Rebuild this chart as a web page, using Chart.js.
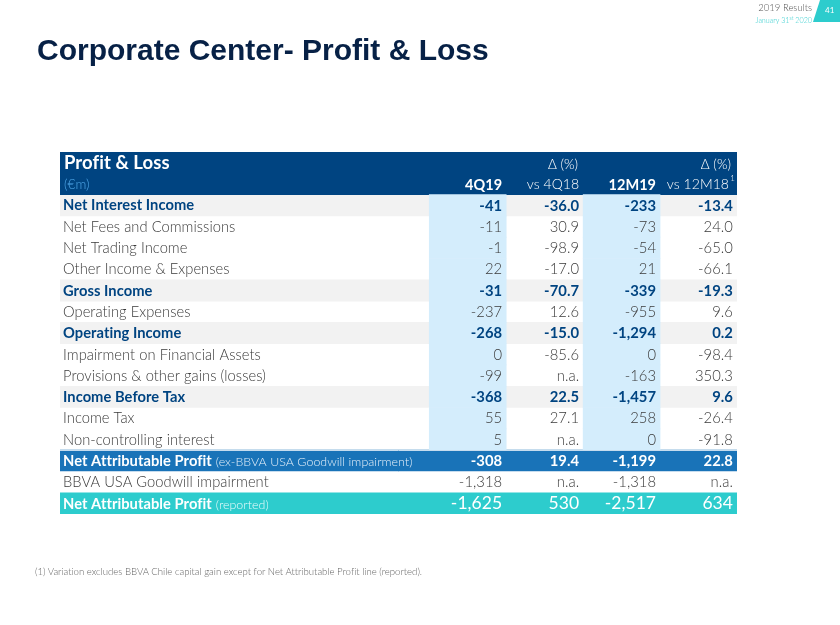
<!DOCTYPE html>
<html><head><meta charset="utf-8">
<script src="https://cdn.jsdelivr.net/npm/chart.js@4.4.1/dist/chart.umd.min.js"></script>
<style>
html,body{margin:0;padding:0;background:#fff}
body{width:840px;height:625px;overflow:hidden;position:relative;font-family:Lato,"Open Sans",sans-serif;font-variant-ligatures:none}
#c{position:absolute;left:0;top:0}
.title{position:absolute;left:37px;top:35px;font-family:"Liberation Sans",Arial,sans-serif;font-weight:700;font-size:30px;line-height:30px;color:#072146;white-space:nowrap}
.res{position:absolute;right:28px;top:2px;font-size:9.5px;font-weight:300;color:#555;white-space:nowrap}
.date{position:absolute;right:28px;top:15px;font-size:7.2px;font-weight:300;color:#2dcccd;white-space:nowrap}
.date sup{font-size:5px}
.tab{position:absolute;left:813px;top:0;width:27px;height:22px;background:#2dcccd;clip-path:polygon(7px 0,100% 0,100% 100%,0 100%)}
.pg{position:absolute;left:825px;top:5px;font-size:8px;color:#fff}
.foot{position:absolute;left:35px;top:566px;font-size:9.6px;font-weight:300;color:#666;white-space:nowrap}
</style></head>
<body>
<canvas id="c" width="840" height="625"></canvas>
<div class="title">Corporate Center- Profit &amp; Loss</div>
<div class="res">2019 Results</div>
<div class="date">January 31<sup>st</sup> 2020</div>
<div class="tab"></div><div class="pg">41</div>
<div class="foot">(1) Variation excludes BBVA Chile capital gain except for Net Attributable Profit line (reported).</div>
<script>
// ---- data ----
const rowLabels = ['Net Interest Income','Net Fees and Commissions','Net Trading Income','Other Income & Expenses','Gross Income','Operating Expenses','Operating Income','Impairment on Financial Assets','Provisions & other gains (losses)','Income Before Tax','Income Tax','Non-controlling interest','Net Attributable Profit','BBVA USA Goodwill impairment','Net Attributable Profit'];
const rowNotes = ['','','','','','','','','','','','','(ex-BBVA USA Goodwill impairment)','','(reported)'];
const rowKind = ['sub','','','','sub','','sub','','','sub','','','nap','','rep'];
const colHeaders = ['4Q19','vs 4Q18','12M19','vs 12M18'];
const q4_19 = [-41,-11,-1,22,-31,-237,-268,0,-99,-368,55,5,-308,-1318,-1625];
const dq4 = [-36.0,30.9,-98.9,-17.0,-70.7,12.6,-15.0,-85.6,null,22.5,27.1,null,19.4,null,530];
const m12_19 = [-233,-73,-54,21,-339,-955,-1294,0,-163,-1457,258,0,-1199,-1318,-2517];
const dm12 = [-13.4,24.0,-65.0,-66.1,-19.3,9.6,0.2,-98.4,350.3,9.6,-26.4,-91.8,22.8,null,634];

const NAVY='#004481', MID='#1973b8', AQUA='#2dcccd', GREY='#f2f2f2', LBLUE='#d4edfc';
const L0=-4.8, R0=4;
const cats=['h1','h2'].concat(rowLabels.map((r,i)=>'r'+i));
function band(fn){return cats.map((c,i)=>fn(i)?[L0,R0]:null);}
const hdrBand=band(i=>i<2);
const subBand=band(i=>i>=2&&rowKind[i-2]==='sub');
const napBand=band(i=>i>=2&&rowKind[i-2]==='nap');
const repBand=band(i=>i>=2&&rowKind[i-2]==='rep');
const colA=cats.map((c,i)=>(i>=2&&i<14)?[0,1]:null);
const colB=cats.map((c,i)=>(i>=2&&i<14)?[2,3]:null);

function fmtInt(v){return v.toLocaleString('en-US');}
function fmtPct(v,i){if(v===null)return 'n.a.'; return rowKind[i]==='rep'?fmtInt(v):v.toFixed(1);}

const FF='Lato, "Open Sans", sans-serif';
const tablePlugin={
 id:'tableText',
 afterDatasetsDraw(chart){
  const ctx=chart.ctx, xs=chart.scales.x, ys=chart.scales.y;
  const xl=xs.getPixelForValue(L0), xr=xs.getPixelForValue(R0);
  ctx.save();
  ctx.strokeStyle='#c6dcee'; ctx.lineWidth=1;
  [13,14].forEach(k=>{const yy=Math.round((ys.getPixelForValue(k)+ys.getPixelForValue(k+1))/2)+0.5;ctx.beginPath();ctx.moveTo(xl,yy);ctx.lineTo(xr,yy);ctx.stroke();});
  ctx.textBaseline='middle';
  if('letterSpacing' in ctx) ctx.letterSpacing='0.05px';
  const y1=ys.getPixelForValue(0), y2=ys.getPixelForValue(1)+1;
  ctx.fillStyle='#fff'; ctx.textAlign='left';
  ctx.font='700 18.5px '+FF; ctx.fillText('Profit & Loss',xl+4,y1);
  ctx.fillStyle='#4fa8ea'; ctx.font='300 13.5px '+FF; ctx.fillText('(€m)',xl+4,y2);
  ctx.fillStyle='#fff'; ctx.textAlign='right';
  ctx.font='300 13.5px '+FF;
  ctx.fillText('Δ (%)',xs.getPixelForValue(2)-5,y1+2);
  ctx.fillText('Δ (%)',xs.getPixelForValue(4)-6,y1+2);
  colHeaders.forEach((h,c)=>{
    const bold=(c%2===0);
    ctx.font=(bold?'700 14.5px ':'300 14px ')+FF;
    let xx=xs.getPixelForValue(c+1)-4;
    if(c===3){ctx.font='300 8px '+FF; ctx.fillText('1',xs.getPixelForValue(4)-2,y2-7); ctx.font='300 14px '+FF; xx-=4;}
    ctx.fillText(h,xx,y2);
  });
  rowLabels.forEach((lab,i)=>{
    const yy=ys.getPixelForValue(i+2)+0.5, k=rowKind[i];
    let col='#3a3a3a', wL='300', wV='300', sz=14.7, szV=14.8;
    if(k==='sub'){col=NAVY;wL='700';wV='700';}
    if(k==='nap'){col='#fff';wL='700';wV='700';}
    if(k==='rep'){col='#fff';wL='700';wV='400';szV=17.5;}
    ctx.fillStyle=col; ctx.textAlign='left';
    ctx.font=wL+' '+sz+'px '+FF;
    ctx.fillText(lab,xl+3,yy);
    if(rowNotes[i]){const w=ctx.measureText(lab).width; ctx.font='300 12.4px '+FF; ctx.fillStyle=(k==='nap')?'#e6f0fa':'#eafcfc'; ctx.fillText(rowNotes[i],xl+3+w+4,yy+1); ctx.fillStyle=col;}
    ctx.textAlign='right';
    ctx.font=wV+' '+szV+'px '+FF;
    const vals=[fmtInt(q4_19[i]),fmtPct(dq4[i],i),fmtInt(m12_19[i]),fmtPct(dm12[i],i)];
    vals.forEach((v,c)=>ctx.fillText(v,xs.getPixelForValue(c+1)-4,yy));
  });
  ctx.restore();
 }
};

const ds=(data,color,order)=>({data,backgroundColor:color,borderWidth:0,borderSkipped:false,grouped:false,barPercentage:1,categoryPercentage:1,order});
new Chart(document.getElementById('c'),{
 type:'bar',
 data:{labels:cats,datasets:[
   ds(colA,LBLUE,0),ds(colB,LBLUE,0),
   ds(hdrBand,NAVY,1),ds(subBand,GREY,1),ds(napBand,MID,1),ds(repBand,AQUA,1)
 ]},
 options:{
  indexAxis:'y',responsive:false,animation:false,
  layout:{padding:{left:60,right:103,top:152,bottom:111}},
  plugins:{legend:{display:false},tooltip:{enabled:false}},
  scales:{
   x:{type:'linear',min:L0,max:R0,display:false},
   y:{type:'category',display:false,offset:true}
  }
 },
 plugins:[tablePlugin]
});
</script>
</body></html>
